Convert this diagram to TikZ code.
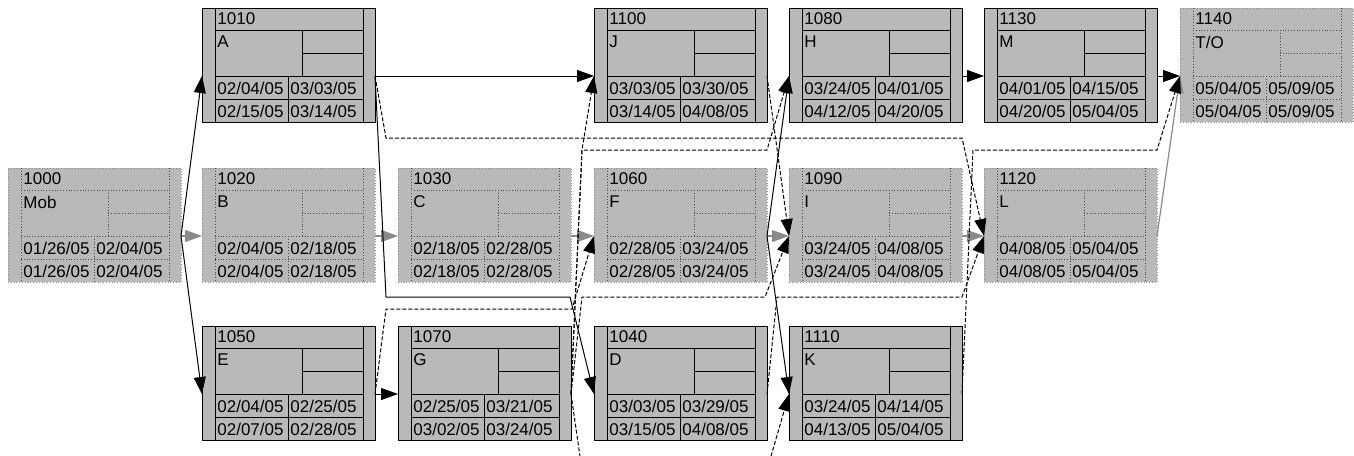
\documentclass[tikz,border=0pt]{standalone}
\usepackage{fontspec}
\setmainfont{Liberation Sans}
\usetikzlibrary{calc,arrows.meta}
\definecolor{critgray}{HTML}{8a8a8a}
\definecolor{boxfill}{HTML}{b9b9b9}

\begin{document}
\begin{tikzpicture}[x=.5pt,y=-.5pt,>={Triangle[length=8.5pt,width=6pt]},
    actnorm/.style={draw=black,line width=.5pt,fill=boxfill,minimum width=86.5pt,minimum height=57pt,inner sep=0,outer sep=0},
    actcrit/.style={draw=black!45,densely dotted,line width=.4pt,fill=boxfill,minimum width=86.5pt,minimum height=57pt,inner sep=0,outer sep=0},
    rulenorm/.style={black,line width=.5pt},
    rulecrit/.style={black!70,line width=.4pt,densely dotted},
    txt/.style={anchor=west,inner sep=0,font=\fontsize{8.5}{10}\selectfont},
    drive/.style={->,line width=.5pt},
    free/.style={->,line width=.5pt,dash pattern=on 2pt off 1pt},
    crit/.style={->,critgray,line width=.6pt}]
    \clip(0,0)rectangle(1354,455);
    % one activity box: style, name, position, id, label, ES, EF, LS, LF
    \newcommand{\pertbox}[9]{%
        \node[act#1,anchor=north west](#2)at(#3){};
        \coordinate(#2-in)at($(#2.north west)+(0,68)$);
        \coordinate(#2-out)at($(#2.north east)+(0,68)$);
        \draw[rule#1]($(#2.north west)+(13,0)$)--($(#2.south west)+(13,0)$);
        \draw[rule#1]($(#2.north east)+(-12,0)$)--($(#2.south east)+(-12,0)$);
        \draw[rule#1]($(#2.north west)+(13,22)$)--($(#2.north east)+(-12,22)$);
        \draw[rule#1]($(#2.north west)+(100,22)$)--($(#2.north west)+(100,68)$);
        \draw[rule#1]($(#2.north west)+(100,45)$)--($(#2.north east)+(-12,45)$);
        \draw[rule#1]($(#2.north west)+(13,68)$)--($(#2.north east)+(-12,68)$);
        \draw[rule#1]($(#2.north west)+(86,68)$)--($(#2.south west)+(86,0)$);
        \draw[rule#1]($(#2.north west)+(13,91)$)--($(#2.north east)+(-12,91)$);
        \node[txt](#2-id)at($(#2.north west)+(15,11)$){#4};
        \node[txt](#2-name)at($(#2.north west)+(15,34)$){#5};
        \node[txt](#2-es)at($(#2.north west)+(15,80)$){#6};
        \node[txt](#2-ef)at($(#2.north west)+(88,80)$){#7};
        \node[txt](#2-ls)at($(#2.north west)+(15,103)$){#8};
        \node[txt](#2-lf)at($(#2.north west)+(88,103)$){#9};
    }
    \pertbox{crit}{n1000}{8,168}{1000}{Mob}{01/26/05}{02/04/05}{01/26/05}{02/04/05}
    \pertbox{norm}{n1010}{202,8}{1010}{A}{02/04/05}{03/03/05}{02/15/05}{03/14/05}
    \pertbox{crit}{n1020}{202,168}{1020}{B}{02/04/05}{02/18/05}{02/04/05}{02/18/05}
    \pertbox{norm}{n1050}{202,326}{1050}{E}{02/04/05}{02/25/05}{02/07/05}{02/28/05}
    \pertbox{crit}{n1030}{398,168}{1030}{C}{02/18/05}{02/28/05}{02/18/05}{02/28/05}
    \pertbox{norm}{n1070}{398,326}{1070}{G}{02/25/05}{03/21/05}{03/02/05}{03/24/05}
    \pertbox{norm}{n1100}{594,8}{1100}{J}{03/03/05}{03/30/05}{03/14/05}{04/08/05}
    \pertbox{crit}{n1060}{594,168}{1060}{F}{02/28/05}{03/24/05}{02/28/05}{03/24/05}
    \pertbox{norm}{n1040}{594,326}{1040}{D}{03/03/05}{03/29/05}{03/15/05}{04/08/05}
    \pertbox{norm}{n1080}{789,8}{1080}{H}{03/24/05}{04/01/05}{04/12/05}{04/20/05}
    \pertbox{crit}{n1090}{789,168}{1090}{I}{03/24/05}{04/08/05}{03/24/05}{04/08/05}
    \pertbox{norm}{n1110}{789,326}{1110}{K}{03/24/05}{04/14/05}{04/13/05}{05/04/05}
    \pertbox{norm}{n1130}{984,8}{1130}{M}{04/01/05}{04/15/05}{04/20/05}{05/04/05}
    \pertbox{crit}{n1120}{984,168}{1120}{L}{04/08/05}{05/04/05}{04/08/05}{05/04/05}
    \pertbox{crit}{n1140}{1180,8}{1140}{T/O}{05/04/05}{05/09/05}{05/04/05}{05/09/05}
    % critical path
    \draw[crit](n1000-out)--(n1020-in);
    \draw[crit](n1020-out)--(n1030-in);
    \draw[crit](n1030-out)--(n1060-in);
    \draw[crit](n1060-out)--(n1090-in);
    \draw[crit](n1090-out)--(n1120-in);
    \draw[crit](n1120-out)--(n1140-in);
    % driving links
    \draw[drive](n1000-out)--(n1010-in);
    \draw[drive](n1000-out)--(n1050-in);
    \draw[drive](n1010-out)--(n1100-in);
    \draw[drive](n1010-out)--(386,297)--(570,297)--(n1040-in);
    \draw[drive](n1050-out)--(n1070-in);
    \draw[drive](n1060-out)--(n1080-in);
    \draw[drive](n1060-out)--(n1110-in);
    \draw[drive](n1080-out)--(n1130-in);
    \draw[drive](n1130-out)--(n1140-in);
    % non-driving links
    \draw[free](n1010-out)--(386,138)--(962,138)--(n1120-in);
    \draw[free](n1050-out)--(386,309)--(572,309)--(n1060-in);
    \draw[free](n1070-out)--(582,297)--(765,297)--(n1090-in);
    \draw[free](n1070-out)--(582,150)--(n1100-in);
    \draw[free](n1070-out)--(582,150)--(767,150)--(n1080-in);
    \draw[free](n1070-out)--(582,470)--(767,470)--(n1110-in);
    \draw[free](n1100-out)--(n1090-in);
    \draw[free](n1040-out)--(777,297)--(962,297)--(n1120-in);
    \draw[free](n1110-out)--(973,150)--(1157,150)--(n1140-in);
\end{tikzpicture}
\end{document}
